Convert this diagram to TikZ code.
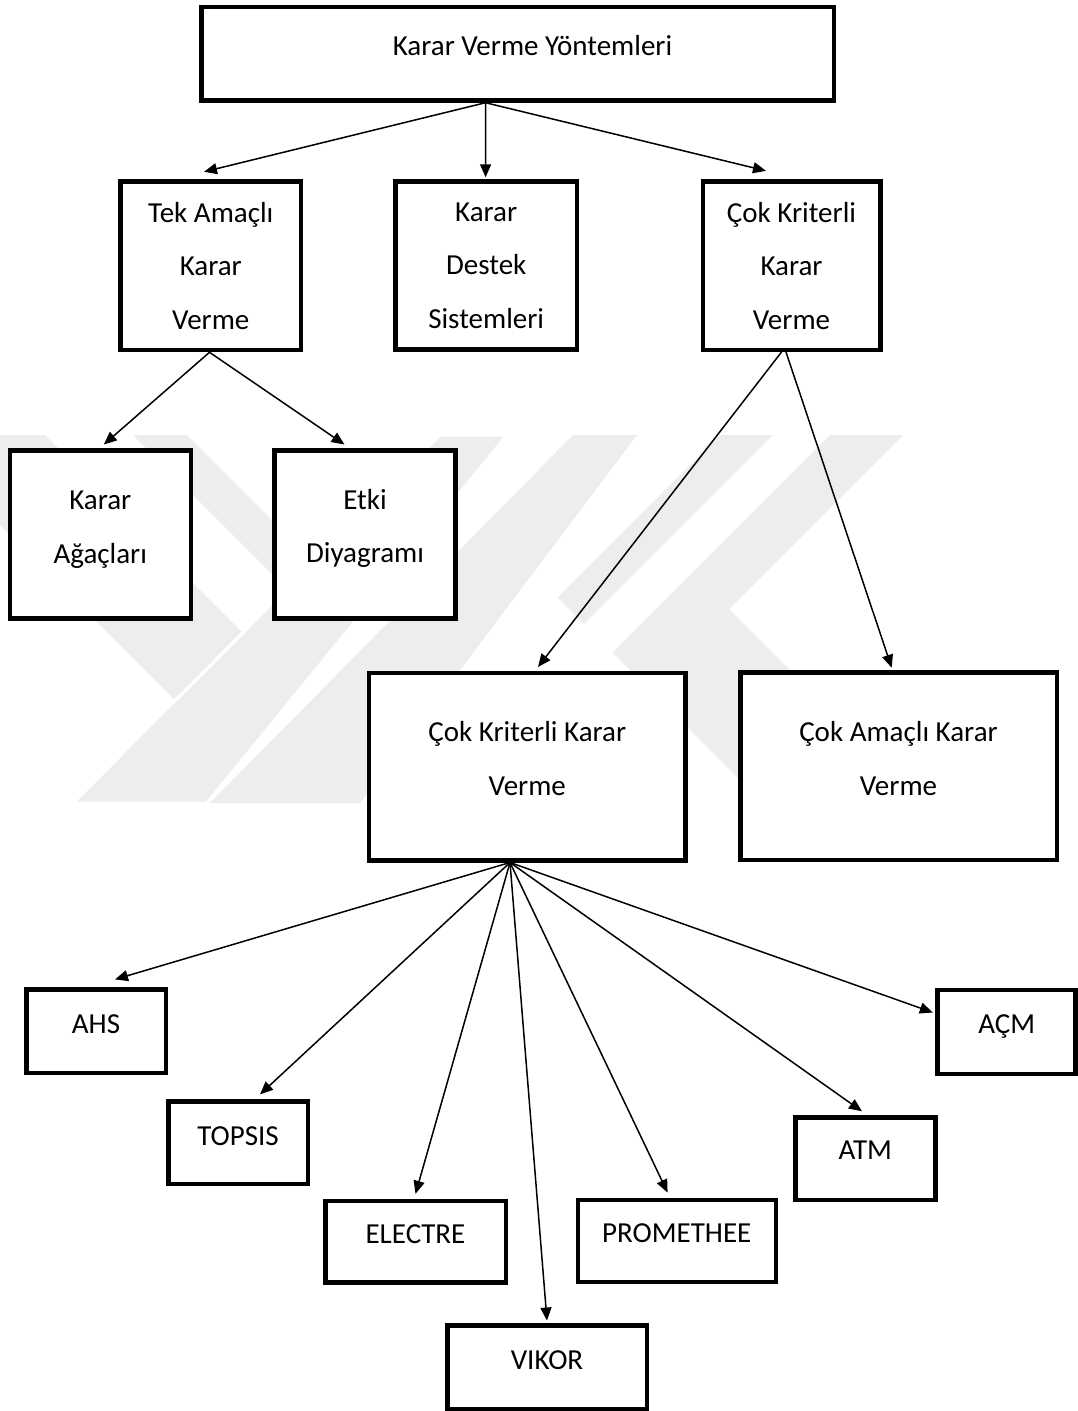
\documentclass[tikz,border=0pt]{standalone}
\usepackage{fontspec}
\setmainfont{Carlito}
\usetikzlibrary{arrows.meta}
% text of a box: lines stacked 53.5pt apart, last baseline lowered by #1 below the box centre
\newcommand\boxlabel[2]{\raisebox{#1}[0pt][0pt]{\begin{tabular}[b]{@{}c@{}}#2\end{tabular}}}

\begin{document}
\begin{tikzpicture}[x=1pt, y=-1pt,
  block/.style={draw, line width=4.5pt, fill=white, inner sep=0pt,
                font=\fontsize{29}{53.5}\selectfont},
  link/.style={line width=1.5pt, -{Triangle[length=13pt,width=11pt]}},
  wm/.style={fill=black!7}]
\useasboundingbox (0,0) rectangle (1077,1411);

% faint background emblem
\begin{scope}
  \clip (0,0) rectangle (1077,1411);
  \fill[wm] (-90,435) -- (45,435) -- (242.5,632.5) -- (175,700) -- cycle;
  \fill[wm] (133,435) -- (187,435) -- (313.5,561.5) -- (286.5,588.5) -- cycle;
  \fill[wm] (573,435) -- (637,435) -- (360,803) -- (210,803) -- cycle;
  \filldraw[wm, draw=white, line width=3pt] (440,435) -- (507,435) -- (207,803) -- (73,803) -- cycle;
  \fill[wm] (720,435) -- (773,435) -- (584,624) -- (557.5,597.5) -- cycle;
  \fill[wm] (830,435) -- (903,435) -- (729,609) -- (923,803) -- (763,803) -- (612.5,652.5) -- cycle;
\end{scope}

% boxes
\node[block, minimum width=632.5pt, minimum height=93.7pt] (top) at (517.5,53.6)
  {\boxlabel{-2.2pt}{\hspace*{30pt}Karar Verme Yöntemleri}};

\node[block, minimum width=180.5pt, minimum height=168.5pt] (tek) at (210.8,265.8)
  {\boxlabel{-63.2pt}{Tek Amaçlı\\Karar\\Verme}};
\node[block, minimum width=181.2pt, minimum height=167.9pt] (destek) at (486.2,265.5)
  {\boxlabel{-62.8pt}{Karar\\Destek\\Sistemleri}};
\node[block, minimum width=177.5pt, minimum height=168.2pt] (cokk) at (791.5,265.7)
  {\boxlabel{-63.3pt}{Çok Kriterli\\Karar\\Verme}};

\node[block, minimum width=180.9pt, minimum height=168.2pt] (agac) at (100.3,534.4)
  {\boxlabel{-28.9pt}{Karar\\Ağaçları}};
\node[block, minimum width=180.7pt, minimum height=168.2pt] (etki) at (365,534.4)
  {\boxlabel{-28.3pt}{Etki\\Diyagramı}};

\node[block, minimum width=316.2pt, minimum height=187.5pt] (ckkv) at (527.3,766.5)
  {\boxlabel{-28.5pt}{Çok Kriterli Karar\\Verme}};
\node[block, minimum width=316.5pt, minimum height=187.8pt] (ckav) at (898.5,766.2)
  {\boxlabel{-28.8pt}{Çok Amaçlı Karar\\Verme}};

\node[block, minimum width=139.5pt, minimum height=83.5pt] (ahs) at (96,1031)
  {\boxlabel{-2.5pt}{AHS}};
\node[block, minimum width=139.5pt, minimum height=82.5pt] (topsis) at (238,1142.5)
  {\boxlabel{-2.6pt}{TOPSIS}};
\node[block, minimum width=180.5pt, minimum height=81.5pt] (electre) at (415.5,1241.5)
  {\boxlabel{-1.5pt}{ELECTRE}};
\node[block, minimum width=199.5pt, minimum height=83.5pt] (vikor) at (547,1367)
  {\boxlabel{-2pt}{VIKOR}};
\node[block, minimum width=198pt, minimum height=82.4pt] (promethee) at (676.8,1241)
  {\boxlabel{-1pt}{PROMETHEE}};
\node[block, minimum width=140pt, minimum height=82.5pt] (atm) at (865.3,1158.5)
  {\boxlabel{-1.2pt}{ATM}};
\node[block, minimum width=138pt, minimum height=83.8pt] (acm) at (1006.7,1031.9)
  {\boxlabel{-1.1pt}{AÇM}};

% first level
\draw[link] ([xshift=-32pt]top.south) -- ([xshift=-6.8pt,yshift=7.5pt]tek.north);
\draw[link] ([xshift=-32pt]top.south) -- ([xshift=-0.6pt,yshift=2pt]destek.north);
\draw[link] ([xshift=-32pt]top.south) -- ([xshift=-25.5pt,yshift=8.5pt]cokk.north);

% single objective branch
\draw[link] ([xshift=-1.3pt]tek.south) -- ([xshift=3.5pt,yshift=3.5pt]agac.north);
\draw[link] ([xshift=-1.3pt]tek.south) -- ([xshift=-20.5pt,yshift=3.5pt]etki.north);

% multi criteria branch
\draw[link] ([xshift=-10pt]cokk.south) -- ([xshift=10.7pt,yshift=3.5pt]ckkv.north);
\draw[link] ([xshift=-5.5pt]cokk.south) -- ([xshift=-6.8pt,yshift=2.3pt]ckav.north);

% methods
\draw[link] ([xshift=-17.3pt]ckkv.south) -- ([xshift=19pt,yshift=7.6pt]ahs.north);
\draw[link] ([xshift=-17.3pt]ckkv.south) -- ([xshift=22pt,yshift=4.6pt]topsis.north);
\draw[link] ([xshift=-17.3pt]ckkv.south) -- ([yshift=4.7pt]electre.north);
\draw[link] ([xshift=-17.3pt]ckkv.south) -- ([yshift=2.5pt]vikor.north);
\draw[link] ([xshift=-17.3pt]ckkv.south) -- ([xshift=-9.2pt,yshift=5pt]promethee.north);
\draw[link] ([xshift=-17.3pt]ckkv.south) -- ([xshift=-3.3pt,yshift=3.7pt]atm.north);
\draw[link] ([xshift=-17.3pt]ckkv.south) -- ([xshift=-2.6pt,yshift=19.4pt]acm.west);
\end{tikzpicture}
\end{document}
